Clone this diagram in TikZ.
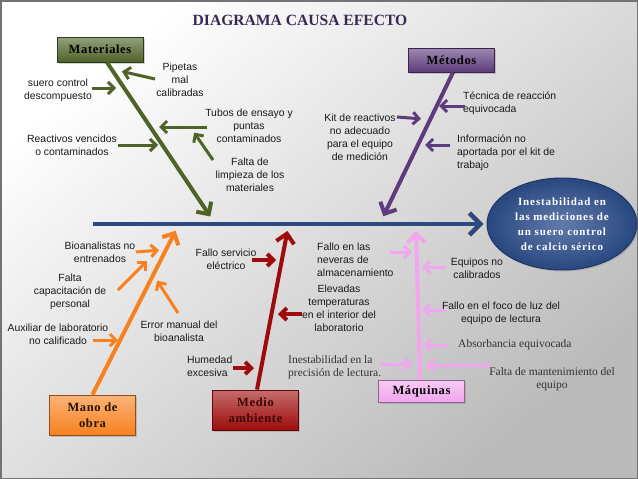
\documentclass[tikz,border=0pt]{standalone}
\usepackage{fontspec}
\setmainfont{Liberation Serif}
\setsansfont{Liberation Sans}
\newfontfamily\boxfont[LetterSpace=5]{Liberation Serif}
\newfontfamily\effectfont[LetterSpace=8]{Liberation Serif}
\usetikzlibrary{arrows.meta}
\usetikzlibrary{shapes.geometric}
\usetikzlibrary{shadows}

\definecolor{spineblue}{HTML}{2E4A7D}
\definecolor{effblue}{HTML}{2D4F8E}
\definecolor{matgreen}{HTML}{4F6228}
\definecolor{metpurple}{HTML}{5E3B7C}
\definecolor{manorange}{HTML}{F7811E}
\definecolor{medred}{HTML}{9E0B0B}
\definecolor{maqpink}{HTML}{F2A6EF}
\definecolor{titlepurple}{HTML}{3B2952}

\tikzset{
	lbl/.style={font=\sffamily\fontsize{10.4}{13}\selectfont, text=black!90, inner sep=0pt, align=center},
	lbll/.style={lbl, align=left},
	slbl/.style={font=\fontsize{11.5}{12.5}\selectfont, text=black!80, inner sep=0pt, align=center},
	slbll/.style={slbl, align=left},
	catbox/.style={draw=#1!60!black, line width=0.8pt, top color=#1!60!white, bottom color=#1, minimum width=86pt, inner sep=2pt, align=center, font=\boxfont\bfseries\fontsize{12.5}{16}\selectfont, drop shadow={shadow xshift=1.5pt, shadow yshift=-1.5pt, opacity=0.35}},
	bone/.style={line width=4pt, draw=#1, -{Straight Barb[length=9pt,width=18pt,sep=3pt]}},
	twig/.style={line width=3pt, draw=#1, -{Straight Barb[length=6pt,width=12pt,sep=2pt]}},
}

\begin{document}
\begin{tikzpicture}[x=1pt, y=-1pt]
	\useasboundingbox (0,0) rectangle (638,479);
	\shade[top color=white, bottom color=black!27, shading angle=40] (0,0) rectangle (638,479);
	\draw[black!55, line width=1.5pt] (0.75,0.75) rectangle (637.25,478.25);

%% Title
	\draw (300,20) node[font=\bfseries\fontsize{15.6}{18}\selectfont, text=titlepurple] (title){DIAGRAMA CAUSA EFECTO};

%% Effect and spine
	\draw (562,224) node[ellipse, draw=effblue!70!black, line width=1pt, inner color=effblue!75!white, outer color=effblue!90!black, minimum width=150pt, minimum height=92pt, inner sep=0pt, text=white, align=center, font=\effectfont\bfseries\fontsize{11}{15}\selectfont, drop shadow={shadow xshift=1.5pt, shadow yshift=-1.5pt, opacity=0.3}] (effect){Inestabilidad en\\las mediciones de\\un suero control\\de calcio sérico};
	\coordinate (spinestart) at (93,224);
	\draw[line width=4.5pt, spineblue, -{Straight Barb[length=11pt,width=22pt,sep=3pt]}] (spinestart) -- (effect.west);

%% Category boxes
	\draw (100,49.5) node[catbox=matgreen, minimum height=25pt] (materiales){Materiales};
	\draw (451.5,60) node[catbox=metpurple, minimum height=24pt] (metodos){Métodos};
	\draw (92.5,415) node[catbox=manorange, minimum height=40pt, text=black!85!orange] (manoobra){Mano de\\obra};
	\draw (255.5,410) node[catbox=medred, minimum height=40pt, text=medred!40!black] (medio){Medio\\ambiente};
	\draw (421.5,391) node[catbox=maqpink, minimum height=22pt] (maquinas){Máquinas};

%% Bones
	\coordinate (mattip) at (212,219);
	\coordinate (mettip) at (382,219);
	\coordinate (mantip) at (177,228);
	\coordinate (medtip) at (288,228);
	\coordinate (maqtip) at (416,228);
	\draw[bone=matgreen]  ([xshift=7pt]materiales.south) -- (mattip);
	\draw[bone=metpurple] ([xshift=1.5pt]metodos.south) -- (mettip);
	\draw[bone=manorange] (manoobra.north) -- (mantip);
	\draw[bone=medred]    ([xshift=1.5pt]medio.north) -- (medtip);
	\draw[bone=maqpink]   ([xshift=-1.5pt]maquinas.north) -- (maqtip);

%% Materiales causes
	\draw (180,80) node[lbl] (pipetas){Pipetas\\mal\\calibradas};
	\draw (58,90) node[lbl] (suero){suero control\\descompuesto};
	\draw (249,126) node[lbl] (tubos){Tubos de ensayo y\\puntas\\contaminados};
	\draw (250,175) node[lbl] (limpieza){Falta de\\limpieza de los\\materiales};
	\draw (72,145) node[lbl] (reactivos){Reactivos vencidos\\o contaminados};
	\coordinate (pipetas-a) at (155,79);   \coordinate (pipetas-b) at (120,71);
	\coordinate (suero-a) at (92,88);      \coordinate (suero-b) at (118,88);
	\coordinate (tubos-a) at (207,127);    \coordinate (tubos-b) at (157,127);
	\coordinate (limpieza-a) at (213,160); \coordinate (limpieza-b) at (193,131);
	\coordinate (reactivos-a) at (118,145);\coordinate (reactivos-b) at (160,145);
	\draw[twig=matgreen] (pipetas-a) -- (pipetas-b);
	\draw[twig=matgreen] (suero-a) -- (suero-b);
	\draw[twig=matgreen] (tubos-a) -- (tubos-b);
	\draw[twig=matgreen] (limpieza-a) -- (limpieza-b);
	\draw[twig=matgreen] (reactivos-a) -- (reactivos-b);

%% Metodos causes
	\draw (463,103) node[lbll, anchor=west] (tecnica){Técnica de reacción\\equivocada};
	\draw (360,137) node[lbl] (kit){Kit de reactivos\\no adecuado\\para el equipo\\de medición};
	\draw (457,153) node[lbll, anchor=west] (informacion){Información no\\aportada por el kit de\\trabajo};
	\coordinate (tecnica-a) at (465,106);     \coordinate (tecnica-b) at (437,106);
	\coordinate (kit-a) at (397,117);         \coordinate (kit-b) at (423,119);
	\coordinate (informacion-a) at (450,145); \coordinate (informacion-b) at (423,145);
	\draw[twig=metpurple] (tecnica-a) -- (tecnica-b);
	\draw[twig=metpurple] (kit-a) -- (kit-b);
	\draw[twig=metpurple] (informacion-a) -- (informacion-b);

%% Mano de obra causes
	\draw (100,252) node[lbl] (bioanalistas){Bioanalistas no\\entrenados};
	\draw (70,292) node[lbl] (capacitacion){Falta\\capacitación de\\personal};
	\draw (179,331) node[lbl] (errormanual){Error manual del\\bioanalista};
	\draw (58,334) node[lbl] (auxiliar){Auxiliar de laboratorio\\no calificado};
	\coordinate (bioanalistas-a) at (136,252); \coordinate (bioanalistas-b) at (161,250);
	\coordinate (capacitacion-a) at (118,290); \coordinate (capacitacion-b) at (148,260);
	\coordinate (errormanual-a) at (178,313);  \coordinate (errormanual-b) at (156,279);
	\coordinate (auxiliar-a) at (93,340);      \coordinate (auxiliar-b) at (120,340);
	\draw[twig=manorange] (bioanalistas-a) -- (bioanalistas-b);
	\draw[twig=manorange] (capacitacion-a) -- (capacitacion-b);
	\draw[twig=manorange] (errormanual-a) -- (errormanual-b);
	\draw[twig=manorange] (auxiliar-a) -- (auxiliar-b);

%% Medio ambiente causes
	\draw (226,259) node[lbl] (servicio){Fallo servicio\\eléctrico};
	\draw (339,308) node[lbl] (elevadas){Elevadas\\temperaturas\\en el interior del\\laboratorio};
	\draw (187,366) node[lbll, anchor=west] (humedad){Humedad\\excesiva};
	\coordinate (servicio-a) at (252,260); \coordinate (servicio-b) at (278,260);
	\coordinate (elevadas-a) at (302,314); \coordinate (elevadas-b) at (276,314);
	\coordinate (humedad-a) at (233,368);  \coordinate (humedad-b) at (256,368);
	\draw[twig=medred, line width=4pt] (servicio-a) -- (servicio-b);
	\draw[twig=medred, line width=4pt] (elevadas-a) -- (elevadas-b);
	\draw[twig=medred, line width=4pt] (humedad-a) -- (humedad-b);

%% Maquinas causes
	\draw (317,260) node[lbll, anchor=west] (neveras){Fallo en las\\neveras de\\almacenamiento};
	\draw (477,268) node[lbl] (equipos){Equipos no\\calibrados};
	\draw (501,313) node[lbl] (foco){Fallo en el foco de luz del\\equipo de lectura};
	\draw (458,345) node[slbll, anchor=west] (absorbancia){Absorbancia equivocada};
	\draw (552,379) node[slbl] (mantenimiento){Falta de mantenimiento del\\equipo};
	\draw (288,367) node[slbll, anchor=west] (precision){Inestabilidad en la\\precisión de lectura.};
	\coordinate (neveras-a) at (390,252);       \coordinate (neveras-b) at (414,252);
	\coordinate (equipos-a) at (445,267);       \coordinate (equipos-b) at (420,267);
	\coordinate (foco-a) at (445,310);          \coordinate (foco-b) at (420,310);
	\coordinate (absorbancia-a) at (447,345);   \coordinate (absorbancia-b) at (421,345);
	\coordinate (mantenimiento-a) at (490,365); \coordinate (mantenimiento-b) at (424,365);
	\coordinate (precision-a) at (380,364);     \coordinate (precision-b) at (414,364);
	\draw[twig=maqpink] (neveras-a) -- (neveras-b);
	\draw[twig=maqpink] (equipos-a) -- (equipos-b);
	\draw[twig=maqpink] (foco-a) -- (foco-b);
	\draw[twig=maqpink] (absorbancia-a) -- (absorbancia-b);
	\draw[twig=maqpink] (mantenimiento-a) -- (mantenimiento-b);
	\draw[twig=maqpink] (precision-a) -- (precision-b);
\end{tikzpicture}
\end{document}
